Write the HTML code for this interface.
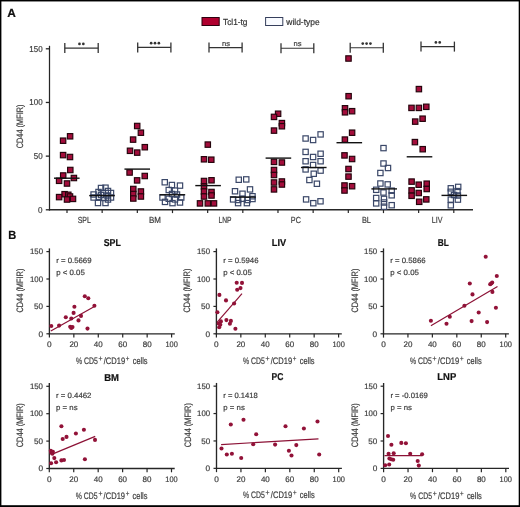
<!DOCTYPE html>
<html><head><meta charset="utf-8"><style>
html,body{margin:0;padding:0;background:#fff;}
body{width:520px;height:507px;overflow:hidden;}
svg{display:block;will-change:transform;font-family:"Liberation Sans",sans-serif;text-rendering:geometricPrecision;}
text{stroke:currentColor;stroke-width:0.2px;}
</style></head><body>
<svg width="520" height="507" viewBox="0 0 520 507">
<rect x="0" y="0" width="520" height="507" fill="#fff"/>
<text x="7.20" y="16.80" font-size="12" text-anchor="start" fill="#111" color="#111" font-weight="bold" textLength="8.6" lengthAdjust="spacingAndGlyphs">A</text>
<rect x="202" y="17.5" width="17.2" height="8" fill="#b0002f" stroke="#2e000e" stroke-width="1"/>
<text x="223.00" y="25.20" font-size="8.8" text-anchor="start" fill="#333" color="#333" font-weight="normal" textLength="24.5" lengthAdjust="spacingAndGlyphs">Tcl1-tg</text>
<rect x="265.6" y="17.5" width="17.2" height="8" fill="#f9fbff" stroke="#363f5c" stroke-width="1"/>
<text x="286.30" y="25.20" font-size="8.8" text-anchor="start" fill="#333" color="#333" font-weight="normal" textLength="33.3" lengthAdjust="spacingAndGlyphs">wild-type</text>
<line x1="49.50" y1="45.80" x2="49.50" y2="210.50" stroke="#262626" stroke-width="1.25"/>
<line x1="48.90" y1="209.80" x2="473.00" y2="209.80" stroke="#262626" stroke-width="1.4"/>
<line x1="45.80" y1="209.80" x2="49.50" y2="209.80" stroke="#262626" stroke-width="1.3"/>
<text x="42.60" y="212.70" font-size="8.6" text-anchor="end" fill="#3d3d3d" color="#3d3d3d" font-weight="normal" textLength="4.5" lengthAdjust="spacingAndGlyphs">0</text>
<line x1="45.80" y1="156.13" x2="49.50" y2="156.13" stroke="#262626" stroke-width="1.3"/>
<text x="42.60" y="159.03" font-size="8.6" text-anchor="end" fill="#3d3d3d" color="#3d3d3d" font-weight="normal" textLength="8.9" lengthAdjust="spacingAndGlyphs">50</text>
<line x1="45.80" y1="102.46" x2="49.50" y2="102.46" stroke="#262626" stroke-width="1.3"/>
<text x="42.60" y="105.36" font-size="8.6" text-anchor="end" fill="#3d3d3d" color="#3d3d3d" font-weight="normal" textLength="13.3" lengthAdjust="spacingAndGlyphs">100</text>
<line x1="45.80" y1="48.79" x2="49.50" y2="48.79" stroke="#262626" stroke-width="1.3"/>
<text x="42.60" y="51.69" font-size="8.6" text-anchor="end" fill="#3d3d3d" color="#3d3d3d" font-weight="normal" textLength="13.3" lengthAdjust="spacingAndGlyphs">150</text>
<text x="0" y="0" font-size="9.3" text-anchor="middle" fill="#3d3d3d" color="#3d3d3d" textLength="43.8" lengthAdjust="spacingAndGlyphs" transform="translate(23.0,126.4) rotate(-90)">CD44 (MFIR)</text>
<line x1="67.00" y1="209.80" x2="67.00" y2="213.10" stroke="#262626" stroke-width="1.2"/>
<line x1="102.16" y1="209.80" x2="102.16" y2="213.10" stroke="#262626" stroke-width="1.2"/>
<line x1="137.33" y1="209.80" x2="137.33" y2="213.10" stroke="#262626" stroke-width="1.2"/>
<line x1="172.49" y1="209.80" x2="172.49" y2="213.10" stroke="#262626" stroke-width="1.2"/>
<line x1="207.66" y1="209.80" x2="207.66" y2="213.10" stroke="#262626" stroke-width="1.2"/>
<line x1="242.82" y1="209.80" x2="242.82" y2="213.10" stroke="#262626" stroke-width="1.2"/>
<line x1="277.98" y1="209.80" x2="277.98" y2="213.10" stroke="#262626" stroke-width="1.2"/>
<line x1="313.15" y1="209.80" x2="313.15" y2="213.10" stroke="#262626" stroke-width="1.2"/>
<line x1="348.31" y1="209.80" x2="348.31" y2="213.10" stroke="#262626" stroke-width="1.2"/>
<line x1="383.48" y1="209.80" x2="383.48" y2="213.10" stroke="#262626" stroke-width="1.2"/>
<line x1="418.64" y1="209.80" x2="418.64" y2="213.10" stroke="#262626" stroke-width="1.2"/>
<line x1="453.80" y1="209.80" x2="453.80" y2="213.10" stroke="#262626" stroke-width="1.2"/>
<text x="84.30" y="222.80" font-size="8.8" text-anchor="middle" fill="#3d3d3d" color="#3d3d3d" font-weight="normal" textLength="13.2" lengthAdjust="spacingAndGlyphs">SPL</text>
<text x="154.90" y="222.80" font-size="8.8" text-anchor="middle" fill="#3d3d3d" color="#3d3d3d" font-weight="normal" textLength="12.0" lengthAdjust="spacingAndGlyphs">BM</text>
<text x="225.00" y="222.80" font-size="8.8" text-anchor="middle" fill="#3d3d3d" color="#3d3d3d" font-weight="normal" textLength="13.0" lengthAdjust="spacingAndGlyphs">LNP</text>
<text x="295.85" y="222.80" font-size="8.8" text-anchor="middle" fill="#3d3d3d" color="#3d3d3d" font-weight="normal" textLength="10.1" lengthAdjust="spacingAndGlyphs">PC</text>
<text x="366.40" y="222.80" font-size="8.8" text-anchor="middle" fill="#3d3d3d" color="#3d3d3d" font-weight="normal" textLength="9.0" lengthAdjust="spacingAndGlyphs">BL</text>
<text x="437.20" y="222.80" font-size="8.8" text-anchor="middle" fill="#3d3d3d" color="#3d3d3d" font-weight="normal" textLength="10.7" lengthAdjust="spacingAndGlyphs">LIV</text>
<line x1="64.80" y1="48.10" x2="98.20" y2="48.10" stroke="#333" stroke-width="1.1"/>
<line x1="64.80" y1="43.10" x2="64.80" y2="53.10" stroke="#333" stroke-width="1.3"/>
<line x1="98.20" y1="43.10" x2="98.20" y2="53.10" stroke="#333" stroke-width="1.3"/>
<circle cx="79.48" cy="43.90" r="1.35" fill="#333"/>
<circle cx="83.33" cy="43.90" r="1.35" fill="#333"/>
<line x1="137.70" y1="47.40" x2="170.90" y2="47.40" stroke="#333" stroke-width="1.1"/>
<line x1="137.70" y1="42.40" x2="137.70" y2="52.40" stroke="#333" stroke-width="1.3"/>
<line x1="170.90" y1="42.40" x2="170.90" y2="52.40" stroke="#333" stroke-width="1.3"/>
<circle cx="151.15" cy="43.20" r="1.35" fill="#333"/>
<circle cx="155.00" cy="43.20" r="1.35" fill="#333"/>
<circle cx="158.85" cy="43.20" r="1.35" fill="#333"/>
<line x1="209.00" y1="47.60" x2="242.10" y2="47.60" stroke="#333" stroke-width="1.1"/>
<line x1="209.00" y1="42.60" x2="209.00" y2="52.60" stroke="#333" stroke-width="1.3"/>
<line x1="242.10" y1="42.60" x2="242.10" y2="52.60" stroke="#333" stroke-width="1.3"/>
<text x="226.00" y="45.60" font-size="7.2" text-anchor="middle" fill="#444" color="#444" font-weight="normal" textLength="8.0" lengthAdjust="spacingAndGlyphs">ns</text>
<line x1="281.00" y1="48.30" x2="313.80" y2="48.30" stroke="#333" stroke-width="1.1"/>
<line x1="281.00" y1="43.30" x2="281.00" y2="53.30" stroke="#333" stroke-width="1.3"/>
<line x1="313.80" y1="43.30" x2="313.80" y2="53.30" stroke="#333" stroke-width="1.3"/>
<text x="297.60" y="46.30" font-size="7.2" text-anchor="middle" fill="#444" color="#444" font-weight="normal" textLength="8.0" lengthAdjust="spacingAndGlyphs">ns</text>
<line x1="350.20" y1="47.80" x2="383.30" y2="47.80" stroke="#333" stroke-width="1.1"/>
<line x1="350.20" y1="42.80" x2="350.20" y2="52.80" stroke="#333" stroke-width="1.3"/>
<line x1="383.30" y1="42.80" x2="383.30" y2="52.80" stroke="#333" stroke-width="1.3"/>
<circle cx="362.75" cy="43.60" r="1.35" fill="#333"/>
<circle cx="366.60" cy="43.60" r="1.35" fill="#333"/>
<circle cx="370.45" cy="43.60" r="1.35" fill="#333"/>
<line x1="421.00" y1="46.60" x2="454.40" y2="46.60" stroke="#333" stroke-width="1.1"/>
<line x1="421.00" y1="41.60" x2="421.00" y2="51.60" stroke="#333" stroke-width="1.3"/>
<line x1="454.40" y1="41.60" x2="454.40" y2="51.60" stroke="#333" stroke-width="1.3"/>
<circle cx="435.88" cy="42.40" r="1.35" fill="#333"/>
<circle cx="439.73" cy="42.40" r="1.35" fill="#333"/>
<rect x="67.40" y="133.60" width="5.4" height="5.4" fill="#a30d3b" stroke="#24040c" stroke-width="1.15"/>
<rect x="60.40" y="138.00" width="5.4" height="5.4" fill="#a30d3b" stroke="#24040c" stroke-width="1.15"/>
<rect x="60.40" y="152.40" width="5.4" height="5.4" fill="#a30d3b" stroke="#24040c" stroke-width="1.15"/>
<rect x="67.30" y="154.30" width="5.4" height="5.4" fill="#a30d3b" stroke="#24040c" stroke-width="1.15"/>
<rect x="67.60" y="167.30" width="5.4" height="5.4" fill="#a30d3b" stroke="#24040c" stroke-width="1.15"/>
<rect x="60.50" y="172.80" width="5.4" height="5.4" fill="#a30d3b" stroke="#24040c" stroke-width="1.15"/>
<rect x="71.20" y="175.30" width="5.4" height="5.4" fill="#a30d3b" stroke="#24040c" stroke-width="1.15"/>
<rect x="56.40" y="178.10" width="5.4" height="5.4" fill="#a30d3b" stroke="#24040c" stroke-width="1.15"/>
<rect x="64.30" y="180.80" width="5.4" height="5.4" fill="#a30d3b" stroke="#24040c" stroke-width="1.15"/>
<rect x="61.90" y="191.50" width="5.4" height="5.4" fill="#a30d3b" stroke="#24040c" stroke-width="1.15"/>
<rect x="65.60" y="192.10" width="5.4" height="5.4" fill="#a30d3b" stroke="#24040c" stroke-width="1.15"/>
<rect x="67.30" y="193.80" width="5.4" height="5.4" fill="#a30d3b" stroke="#24040c" stroke-width="1.15"/>
<rect x="56.40" y="194.40" width="5.4" height="5.4" fill="#a30d3b" stroke="#24040c" stroke-width="1.15"/>
<rect x="64.30" y="196.80" width="5.4" height="5.4" fill="#a30d3b" stroke="#24040c" stroke-width="1.15"/>
<rect x="70.30" y="196.20" width="5.4" height="5.4" fill="#a30d3b" stroke="#24040c" stroke-width="1.15"/>
<rect x="90.95" y="191.85" width="5.3" height="5.3" fill="none" stroke="#3a4768" stroke-width="1.2"/>
<rect x="90.95" y="194.85" width="5.3" height="5.3" fill="none" stroke="#3a4768" stroke-width="1.2"/>
<rect x="108.35" y="190.35" width="5.3" height="5.3" fill="none" stroke="#3a4768" stroke-width="1.2"/>
<rect x="108.35" y="194.85" width="5.3" height="5.3" fill="none" stroke="#3a4768" stroke-width="1.2"/>
<rect x="95.35" y="200.35" width="5.3" height="5.3" fill="none" stroke="#3a4768" stroke-width="1.2"/>
<rect x="102.85" y="200.35" width="5.3" height="5.3" fill="none" stroke="#3a4768" stroke-width="1.2"/>
<rect x="98.35" y="185.35" width="5.3" height="5.3" fill="none" stroke="#3a4768" stroke-width="1.2"/>
<rect x="102.85" y="185.05" width="5.3" height="5.3" fill="none" stroke="#3a4768" stroke-width="1.2"/>
<rect x="105.35" y="188.35" width="5.3" height="5.3" fill="none" stroke="#3a4768" stroke-width="1.2"/>
<rect x="95.85" y="189.35" width="5.3" height="5.3" fill="none" stroke="#3a4768" stroke-width="1.2"/>
<rect x="100.35" y="190.35" width="5.3" height="5.3" fill="none" stroke="#3a4768" stroke-width="1.2"/>
<rect x="104.85" y="192.85" width="5.3" height="5.3" fill="none" stroke="#3a4768" stroke-width="1.2"/>
<rect x="96.35" y="194.35" width="5.3" height="5.3" fill="none" stroke="#3a4768" stroke-width="1.2"/>
<rect x="100.85" y="195.35" width="5.3" height="5.3" fill="none" stroke="#3a4768" stroke-width="1.2"/>
<rect x="105.35" y="196.85" width="5.3" height="5.3" fill="none" stroke="#3a4768" stroke-width="1.2"/>
<rect x="98.35" y="192.35" width="5.3" height="5.3" fill="none" stroke="#3a4768" stroke-width="1.2"/>
<rect x="134.50" y="123.30" width="5.4" height="5.4" fill="#a30d3b" stroke="#24040c" stroke-width="1.15"/>
<rect x="138.20" y="130.00" width="5.4" height="5.4" fill="#a30d3b" stroke="#24040c" stroke-width="1.15"/>
<rect x="130.40" y="136.90" width="5.4" height="5.4" fill="#a30d3b" stroke="#24040c" stroke-width="1.15"/>
<rect x="142.10" y="144.50" width="5.4" height="5.4" fill="#a30d3b" stroke="#24040c" stroke-width="1.15"/>
<rect x="127.30" y="148.10" width="5.4" height="5.4" fill="#a30d3b" stroke="#24040c" stroke-width="1.15"/>
<rect x="134.50" y="149.90" width="5.4" height="5.4" fill="#a30d3b" stroke="#24040c" stroke-width="1.15"/>
<rect x="126.90" y="169.80" width="5.4" height="5.4" fill="#a30d3b" stroke="#24040c" stroke-width="1.15"/>
<rect x="142.05" y="173.30" width="5.4" height="5.4" fill="#a30d3b" stroke="#24040c" stroke-width="1.15"/>
<rect x="134.40" y="177.70" width="5.4" height="5.4" fill="#a30d3b" stroke="#24040c" stroke-width="1.15"/>
<rect x="130.60" y="186.30" width="5.4" height="5.4" fill="#a30d3b" stroke="#24040c" stroke-width="1.15"/>
<rect x="130.60" y="191.30" width="5.4" height="5.4" fill="#a30d3b" stroke="#24040c" stroke-width="1.15"/>
<rect x="130.60" y="195.80" width="5.4" height="5.4" fill="#a30d3b" stroke="#24040c" stroke-width="1.15"/>
<rect x="138.20" y="188.80" width="5.4" height="5.4" fill="#a30d3b" stroke="#24040c" stroke-width="1.15"/>
<rect x="138.20" y="193.80" width="5.4" height="5.4" fill="#a30d3b" stroke="#24040c" stroke-width="1.15"/>
<rect x="162.10" y="179.60" width="5.3" height="5.3" fill="none" stroke="#3a4768" stroke-width="1.2"/>
<rect x="169.25" y="182.35" width="5.3" height="5.3" fill="none" stroke="#3a4768" stroke-width="1.2"/>
<rect x="177.35" y="182.95" width="5.3" height="5.3" fill="none" stroke="#3a4768" stroke-width="1.2"/>
<rect x="166.10" y="187.35" width="5.3" height="5.3" fill="none" stroke="#3a4768" stroke-width="1.2"/>
<rect x="172.35" y="187.95" width="5.3" height="5.3" fill="none" stroke="#3a4768" stroke-width="1.2"/>
<rect x="169.35" y="191.35" width="5.3" height="5.3" fill="none" stroke="#3a4768" stroke-width="1.2"/>
<rect x="174.35" y="191.85" width="5.3" height="5.3" fill="none" stroke="#3a4768" stroke-width="1.2"/>
<rect x="159.85" y="194.85" width="5.3" height="5.3" fill="none" stroke="#3a4768" stroke-width="1.2"/>
<rect x="166.10" y="196.10" width="5.3" height="5.3" fill="none" stroke="#3a4768" stroke-width="1.2"/>
<rect x="172.35" y="196.75" width="5.3" height="5.3" fill="none" stroke="#3a4768" stroke-width="1.2"/>
<rect x="178.60" y="194.85" width="5.3" height="5.3" fill="none" stroke="#3a4768" stroke-width="1.2"/>
<rect x="162.35" y="199.25" width="5.3" height="5.3" fill="none" stroke="#3a4768" stroke-width="1.2"/>
<rect x="169.85" y="200.45" width="5.3" height="5.3" fill="none" stroke="#3a4768" stroke-width="1.2"/>
<rect x="177.35" y="199.85" width="5.3" height="5.3" fill="none" stroke="#3a4768" stroke-width="1.2"/>
<rect x="205.10" y="141.90" width="5.4" height="5.4" fill="#a30d3b" stroke="#24040c" stroke-width="1.15"/>
<rect x="201.30" y="156.60" width="5.4" height="5.4" fill="#a30d3b" stroke="#24040c" stroke-width="1.15"/>
<rect x="208.60" y="157.00" width="5.4" height="5.4" fill="#a30d3b" stroke="#24040c" stroke-width="1.15"/>
<rect x="201.30" y="178.30" width="5.4" height="5.4" fill="#a30d3b" stroke="#24040c" stroke-width="1.15"/>
<rect x="208.80" y="177.60" width="5.4" height="5.4" fill="#a30d3b" stroke="#24040c" stroke-width="1.15"/>
<rect x="201.30" y="183.80" width="5.4" height="5.4" fill="#a30d3b" stroke="#24040c" stroke-width="1.15"/>
<rect x="201.30" y="188.80" width="5.4" height="5.4" fill="#a30d3b" stroke="#24040c" stroke-width="1.15"/>
<rect x="201.30" y="193.80" width="5.4" height="5.4" fill="#a30d3b" stroke="#24040c" stroke-width="1.15"/>
<rect x="208.80" y="189.30" width="5.4" height="5.4" fill="#a30d3b" stroke="#24040c" stroke-width="1.15"/>
<rect x="208.80" y="192.80" width="5.4" height="5.4" fill="#a30d3b" stroke="#24040c" stroke-width="1.15"/>
<rect x="197.30" y="200.70" width="5.4" height="5.4" fill="#a30d3b" stroke="#24040c" stroke-width="1.15"/>
<rect x="205.10" y="200.70" width="5.4" height="5.4" fill="#a30d3b" stroke="#24040c" stroke-width="1.15"/>
<rect x="211.30" y="200.70" width="5.4" height="5.4" fill="#a30d3b" stroke="#24040c" stroke-width="1.15"/>
<rect x="236.10" y="177.10" width="5.3" height="5.3" fill="none" stroke="#3a4768" stroke-width="1.2"/>
<rect x="243.60" y="176.75" width="5.3" height="5.3" fill="none" stroke="#3a4768" stroke-width="1.2"/>
<rect x="232.35" y="188.60" width="5.3" height="5.3" fill="none" stroke="#3a4768" stroke-width="1.2"/>
<rect x="247.35" y="186.75" width="5.3" height="5.3" fill="none" stroke="#3a4768" stroke-width="1.2"/>
<rect x="239.85" y="191.10" width="5.3" height="5.3" fill="none" stroke="#3a4768" stroke-width="1.2"/>
<rect x="249.85" y="193.60" width="5.3" height="5.3" fill="none" stroke="#3a4768" stroke-width="1.2"/>
<rect x="230.45" y="196.75" width="5.3" height="5.3" fill="none" stroke="#3a4768" stroke-width="1.2"/>
<rect x="235.45" y="197.35" width="5.3" height="5.3" fill="none" stroke="#3a4768" stroke-width="1.2"/>
<rect x="239.85" y="196.10" width="5.3" height="5.3" fill="none" stroke="#3a4768" stroke-width="1.2"/>
<rect x="244.85" y="197.35" width="5.3" height="5.3" fill="none" stroke="#3a4768" stroke-width="1.2"/>
<rect x="249.85" y="196.35" width="5.3" height="5.3" fill="none" stroke="#3a4768" stroke-width="1.2"/>
<rect x="235.45" y="200.45" width="5.3" height="5.3" fill="none" stroke="#3a4768" stroke-width="1.2"/>
<rect x="244.25" y="200.45" width="5.3" height="5.3" fill="none" stroke="#3a4768" stroke-width="1.2"/>
<rect x="275.40" y="111.05" width="5.4" height="5.4" fill="#a30d3b" stroke="#24040c" stroke-width="1.15"/>
<rect x="271.30" y="114.20" width="5.4" height="5.4" fill="#a30d3b" stroke="#24040c" stroke-width="1.15"/>
<rect x="279.20" y="120.40" width="5.4" height="5.4" fill="#a30d3b" stroke="#24040c" stroke-width="1.15"/>
<rect x="279.20" y="123.55" width="5.4" height="5.4" fill="#a30d3b" stroke="#24040c" stroke-width="1.15"/>
<rect x="271.30" y="127.90" width="5.4" height="5.4" fill="#a30d3b" stroke="#24040c" stroke-width="1.15"/>
<rect x="271.30" y="159.20" width="5.4" height="5.4" fill="#a30d3b" stroke="#24040c" stroke-width="1.15"/>
<rect x="279.20" y="159.80" width="5.4" height="5.4" fill="#a30d3b" stroke="#24040c" stroke-width="1.15"/>
<rect x="271.30" y="167.30" width="5.4" height="5.4" fill="#a30d3b" stroke="#24040c" stroke-width="1.15"/>
<rect x="271.30" y="172.30" width="5.4" height="5.4" fill="#a30d3b" stroke="#24040c" stroke-width="1.15"/>
<rect x="271.30" y="179.80" width="5.4" height="5.4" fill="#a30d3b" stroke="#24040c" stroke-width="1.15"/>
<rect x="271.30" y="186.70" width="5.4" height="5.4" fill="#a30d3b" stroke="#24040c" stroke-width="1.15"/>
<rect x="279.20" y="178.80" width="5.4" height="5.4" fill="#a30d3b" stroke="#24040c" stroke-width="1.15"/>
<rect x="279.20" y="181.80" width="5.4" height="5.4" fill="#a30d3b" stroke="#24040c" stroke-width="1.15"/>
<rect x="302.95" y="135.85" width="5.3" height="5.3" fill="none" stroke="#3a4768" stroke-width="1.2"/>
<rect x="310.45" y="137.35" width="5.3" height="5.3" fill="none" stroke="#3a4768" stroke-width="1.2"/>
<rect x="317.95" y="131.75" width="5.3" height="5.3" fill="none" stroke="#3a4768" stroke-width="1.2"/>
<rect x="302.95" y="149.25" width="5.3" height="5.3" fill="none" stroke="#3a4768" stroke-width="1.2"/>
<rect x="310.45" y="154.35" width="5.3" height="5.3" fill="none" stroke="#3a4768" stroke-width="1.2"/>
<rect x="317.95" y="151.10" width="5.3" height="5.3" fill="none" stroke="#3a4768" stroke-width="1.2"/>
<rect x="302.95" y="158.60" width="5.3" height="5.3" fill="none" stroke="#3a4768" stroke-width="1.2"/>
<rect x="317.95" y="158.60" width="5.3" height="5.3" fill="none" stroke="#3a4768" stroke-width="1.2"/>
<rect x="310.45" y="162.35" width="5.3" height="5.3" fill="none" stroke="#3a4768" stroke-width="1.2"/>
<rect x="302.95" y="166.75" width="5.3" height="5.3" fill="none" stroke="#3a4768" stroke-width="1.2"/>
<rect x="317.95" y="167.95" width="5.3" height="5.3" fill="none" stroke="#3a4768" stroke-width="1.2"/>
<rect x="311.10" y="171.10" width="5.3" height="5.3" fill="none" stroke="#3a4768" stroke-width="1.2"/>
<rect x="306.75" y="177.35" width="5.3" height="5.3" fill="none" stroke="#3a4768" stroke-width="1.2"/>
<rect x="314.25" y="181.10" width="5.3" height="5.3" fill="none" stroke="#3a4768" stroke-width="1.2"/>
<rect x="303.45" y="196.75" width="5.3" height="5.3" fill="none" stroke="#3a4768" stroke-width="1.2"/>
<rect x="310.65" y="200.55" width="5.3" height="5.3" fill="none" stroke="#3a4768" stroke-width="1.2"/>
<rect x="317.85" y="198.65" width="5.3" height="5.3" fill="none" stroke="#3a4768" stroke-width="1.2"/>
<rect x="345.80" y="55.80" width="5.4" height="5.4" fill="#a30d3b" stroke="#24040c" stroke-width="1.15"/>
<rect x="345.90" y="93.50" width="5.4" height="5.4" fill="#a30d3b" stroke="#24040c" stroke-width="1.15"/>
<rect x="342.30" y="105.60" width="5.4" height="5.4" fill="#a30d3b" stroke="#24040c" stroke-width="1.15"/>
<rect x="342.30" y="109.60" width="5.4" height="5.4" fill="#a30d3b" stroke="#24040c" stroke-width="1.15"/>
<rect x="349.40" y="108.50" width="5.4" height="5.4" fill="#a30d3b" stroke="#24040c" stroke-width="1.15"/>
<rect x="349.40" y="130.00" width="5.4" height="5.4" fill="#a30d3b" stroke="#24040c" stroke-width="1.15"/>
<rect x="342.20" y="136.90" width="5.4" height="5.4" fill="#a30d3b" stroke="#24040c" stroke-width="1.15"/>
<rect x="341.80" y="152.70" width="5.4" height="5.4" fill="#a30d3b" stroke="#24040c" stroke-width="1.15"/>
<rect x="349.40" y="156.30" width="5.4" height="5.4" fill="#a30d3b" stroke="#24040c" stroke-width="1.15"/>
<rect x="345.80" y="166.30" width="5.4" height="5.4" fill="#a30d3b" stroke="#24040c" stroke-width="1.15"/>
<rect x="345.80" y="173.90" width="5.4" height="5.4" fill="#a30d3b" stroke="#24040c" stroke-width="1.15"/>
<rect x="341.80" y="182.80" width="5.4" height="5.4" fill="#a30d3b" stroke="#24040c" stroke-width="1.15"/>
<rect x="341.80" y="187.80" width="5.4" height="5.4" fill="#a30d3b" stroke="#24040c" stroke-width="1.15"/>
<rect x="349.40" y="183.50" width="5.4" height="5.4" fill="#a30d3b" stroke="#24040c" stroke-width="1.15"/>
<rect x="380.85" y="145.45" width="5.3" height="5.3" fill="none" stroke="#3a4768" stroke-width="1.2"/>
<rect x="380.85" y="160.85" width="5.3" height="5.3" fill="none" stroke="#3a4768" stroke-width="1.2"/>
<rect x="385.35" y="165.35" width="5.3" height="5.3" fill="none" stroke="#3a4768" stroke-width="1.2"/>
<rect x="377.75" y="170.35" width="5.3" height="5.3" fill="none" stroke="#3a4768" stroke-width="1.2"/>
<rect x="377.75" y="180.85" width="5.3" height="5.3" fill="none" stroke="#3a4768" stroke-width="1.2"/>
<rect x="385.05" y="181.75" width="5.3" height="5.3" fill="none" stroke="#3a4768" stroke-width="1.2"/>
<rect x="373.55" y="187.15" width="5.3" height="5.3" fill="none" stroke="#3a4768" stroke-width="1.2"/>
<rect x="380.85" y="189.85" width="5.3" height="5.3" fill="none" stroke="#3a4768" stroke-width="1.2"/>
<rect x="389.05" y="188.05" width="5.3" height="5.3" fill="none" stroke="#3a4768" stroke-width="1.2"/>
<rect x="373.55" y="195.35" width="5.3" height="5.3" fill="none" stroke="#3a4768" stroke-width="1.2"/>
<rect x="381.35" y="196.25" width="5.3" height="5.3" fill="none" stroke="#3a4768" stroke-width="1.2"/>
<rect x="389.05" y="192.65" width="5.3" height="5.3" fill="none" stroke="#3a4768" stroke-width="1.2"/>
<rect x="373.55" y="200.75" width="5.3" height="5.3" fill="none" stroke="#3a4768" stroke-width="1.2"/>
<rect x="381.35" y="199.85" width="5.3" height="5.3" fill="none" stroke="#3a4768" stroke-width="1.2"/>
<rect x="389.05" y="202.55" width="5.3" height="5.3" fill="none" stroke="#3a4768" stroke-width="1.2"/>
<rect x="381.35" y="204.05" width="5.3" height="5.3" fill="none" stroke="#3a4768" stroke-width="1.2"/>
<rect x="416.20" y="86.40" width="5.4" height="5.4" fill="#a30d3b" stroke="#24040c" stroke-width="1.15"/>
<rect x="408.80" y="105.20" width="5.4" height="5.4" fill="#a30d3b" stroke="#24040c" stroke-width="1.15"/>
<rect x="416.20" y="105.20" width="5.4" height="5.4" fill="#a30d3b" stroke="#24040c" stroke-width="1.15"/>
<rect x="423.60" y="104.10" width="5.4" height="5.4" fill="#a30d3b" stroke="#24040c" stroke-width="1.15"/>
<rect x="412.50" y="118.90" width="5.4" height="5.4" fill="#a30d3b" stroke="#24040c" stroke-width="1.15"/>
<rect x="419.90" y="116.00" width="5.4" height="5.4" fill="#a30d3b" stroke="#24040c" stroke-width="1.15"/>
<rect x="412.20" y="139.40" width="5.4" height="5.4" fill="#a30d3b" stroke="#24040c" stroke-width="1.15"/>
<rect x="420.00" y="146.50" width="5.4" height="5.4" fill="#a30d3b" stroke="#24040c" stroke-width="1.15"/>
<rect x="408.90" y="178.90" width="5.4" height="5.4" fill="#a30d3b" stroke="#24040c" stroke-width="1.15"/>
<rect x="416.00" y="182.00" width="5.4" height="5.4" fill="#a30d3b" stroke="#24040c" stroke-width="1.15"/>
<rect x="424.00" y="181.00" width="5.4" height="5.4" fill="#a30d3b" stroke="#24040c" stroke-width="1.15"/>
<rect x="424.00" y="186.30" width="5.4" height="5.4" fill="#a30d3b" stroke="#24040c" stroke-width="1.15"/>
<rect x="408.90" y="187.70" width="5.4" height="5.4" fill="#a30d3b" stroke="#24040c" stroke-width="1.15"/>
<rect x="408.90" y="193.10" width="5.4" height="5.4" fill="#a30d3b" stroke="#24040c" stroke-width="1.15"/>
<rect x="416.00" y="190.30" width="5.4" height="5.4" fill="#a30d3b" stroke="#24040c" stroke-width="1.15"/>
<rect x="423.60" y="196.70" width="5.4" height="5.4" fill="#a30d3b" stroke="#24040c" stroke-width="1.15"/>
<rect x="416.50" y="199.10" width="5.4" height="5.4" fill="#a30d3b" stroke="#24040c" stroke-width="1.15"/>
<rect x="448.15" y="185.65" width="5.3" height="5.3" fill="none" stroke="#3a4768" stroke-width="1.2"/>
<rect x="455.55" y="184.25" width="5.3" height="5.3" fill="none" stroke="#3a4768" stroke-width="1.2"/>
<rect x="448.15" y="189.15" width="5.3" height="5.3" fill="none" stroke="#3a4768" stroke-width="1.2"/>
<rect x="454.85" y="188.45" width="5.3" height="5.3" fill="none" stroke="#3a4768" stroke-width="1.2"/>
<rect x="451.35" y="192.35" width="5.3" height="5.3" fill="none" stroke="#3a4768" stroke-width="1.2"/>
<rect x="455.25" y="192.85" width="5.3" height="5.3" fill="none" stroke="#3a4768" stroke-width="1.2"/>
<rect x="448.15" y="196.95" width="5.3" height="5.3" fill="none" stroke="#3a4768" stroke-width="1.2"/>
<rect x="455.25" y="196.95" width="5.3" height="5.3" fill="none" stroke="#3a4768" stroke-width="1.2"/>
<rect x="448.15" y="202.65" width="5.3" height="5.3" fill="none" stroke="#3a4768" stroke-width="1.2"/>
<line x1="54.00" y1="178.20" x2="79.60" y2="178.20" stroke="#111" stroke-width="1.4"/>
<line x1="89.20" y1="195.60" x2="114.80" y2="195.60" stroke="#111" stroke-width="1.4"/>
<line x1="124.45" y1="169.10" x2="150.05" y2="169.10" stroke="#111" stroke-width="1.4"/>
<line x1="159.60" y1="194.75" x2="185.20" y2="194.75" stroke="#111" stroke-width="1.4"/>
<line x1="195.30" y1="185.60" x2="220.90" y2="185.60" stroke="#111" stroke-width="1.4"/>
<line x1="230.20" y1="197.10" x2="255.80" y2="197.10" stroke="#111" stroke-width="1.4"/>
<line x1="265.60" y1="158.10" x2="291.20" y2="158.10" stroke="#111" stroke-width="1.4"/>
<line x1="300.95" y1="167.50" x2="326.55" y2="167.50" stroke="#111" stroke-width="1.4"/>
<line x1="336.50" y1="142.70" x2="362.10" y2="142.70" stroke="#111" stroke-width="1.4"/>
<line x1="371.40" y1="188.90" x2="397.00" y2="188.90" stroke="#111" stroke-width="1.4"/>
<line x1="406.70" y1="156.80" x2="432.30" y2="156.80" stroke="#111" stroke-width="1.4"/>
<line x1="441.50" y1="195.40" x2="467.10" y2="195.40" stroke="#111" stroke-width="1.4"/>
<text x="8.30" y="238.80" font-size="12" text-anchor="start" fill="#111" color="#111" font-weight="bold" textLength="8.0" lengthAdjust="spacingAndGlyphs">B</text>
<text x="112.30" y="245.80" font-size="10" text-anchor="middle" fill="#111" color="#111" font-weight="bold" textLength="17.2" lengthAdjust="spacingAndGlyphs">SPL</text>
<line x1="49.40" y1="248.40" x2="49.40" y2="334.40" stroke="#262626" stroke-width="1.35"/>
<line x1="48.80" y1="333.80" x2="174.80" y2="333.80" stroke="#262626" stroke-width="1.35"/>
<line x1="46.40" y1="333.80" x2="49.40" y2="333.80" stroke="#262626" stroke-width="1.2"/>
<text x="43.10" y="336.55" font-size="8" text-anchor="end" fill="#3d3d3d" color="#3d3d3d" font-weight="normal" textLength="4.6" lengthAdjust="spacingAndGlyphs">0</text>
<line x1="46.40" y1="306.40" x2="49.40" y2="306.40" stroke="#262626" stroke-width="1.2"/>
<text x="43.10" y="309.15" font-size="8" text-anchor="end" fill="#3d3d3d" color="#3d3d3d" font-weight="normal" textLength="9.0" lengthAdjust="spacingAndGlyphs">50</text>
<line x1="46.40" y1="279.00" x2="49.40" y2="279.00" stroke="#262626" stroke-width="1.2"/>
<text x="43.10" y="281.75" font-size="8" text-anchor="end" fill="#3d3d3d" color="#3d3d3d" font-weight="normal" textLength="13.1" lengthAdjust="spacingAndGlyphs">100</text>
<line x1="46.40" y1="251.60" x2="49.40" y2="251.60" stroke="#262626" stroke-width="1.2"/>
<text x="43.10" y="254.35" font-size="8" text-anchor="end" fill="#3d3d3d" color="#3d3d3d" font-weight="normal" textLength="13.1" lengthAdjust="spacingAndGlyphs">150</text>
<line x1="49.40" y1="333.80" x2="49.40" y2="337.60" stroke="#262626" stroke-width="1.2"/>
<text x="49.40" y="347.10" font-size="8" text-anchor="middle" fill="#3d3d3d" color="#3d3d3d" font-weight="normal" textLength="4.6" lengthAdjust="spacingAndGlyphs">0</text>
<line x1="73.84" y1="333.80" x2="73.84" y2="337.60" stroke="#262626" stroke-width="1.2"/>
<text x="73.84" y="347.10" font-size="8" text-anchor="middle" fill="#3d3d3d" color="#3d3d3d" font-weight="normal" textLength="8.9" lengthAdjust="spacingAndGlyphs">20</text>
<line x1="98.28" y1="333.80" x2="98.28" y2="337.60" stroke="#262626" stroke-width="1.2"/>
<text x="98.28" y="347.10" font-size="8" text-anchor="middle" fill="#3d3d3d" color="#3d3d3d" font-weight="normal" textLength="8.9" lengthAdjust="spacingAndGlyphs">40</text>
<line x1="122.72" y1="333.80" x2="122.72" y2="337.60" stroke="#262626" stroke-width="1.2"/>
<text x="122.72" y="347.10" font-size="8" text-anchor="middle" fill="#3d3d3d" color="#3d3d3d" font-weight="normal" textLength="8.9" lengthAdjust="spacingAndGlyphs">60</text>
<line x1="147.16" y1="333.80" x2="147.16" y2="337.60" stroke="#262626" stroke-width="1.2"/>
<text x="147.16" y="347.10" font-size="8" text-anchor="middle" fill="#3d3d3d" color="#3d3d3d" font-weight="normal" textLength="8.9" lengthAdjust="spacingAndGlyphs">80</text>
<line x1="171.60" y1="333.80" x2="171.60" y2="337.60" stroke="#262626" stroke-width="1.2"/>
<text x="171.60" y="347.10" font-size="8" text-anchor="middle" fill="#3d3d3d" color="#3d3d3d" font-weight="normal" textLength="12.4" lengthAdjust="spacingAndGlyphs">100</text>
<text x="0" y="0" font-size="9.3" text-anchor="middle" fill="#3d3d3d" color="#3d3d3d" textLength="44" lengthAdjust="spacingAndGlyphs" transform="translate(23.40,290.60) rotate(-90)">CD44 (MFIR)</text>
<text x="75.90" y="363.90" font-size="9.4" text-anchor="start" fill="#3d3d3d" color="#3d3d3d" font-weight="normal" textLength="21.9" lengthAdjust="spacingAndGlyphs">% CD5</text>
<text x="98.50" y="360.90" font-size="7.6" text-anchor="start" fill="#3d3d3d" color="#3d3d3d" font-weight="normal" textLength="4.0" lengthAdjust="spacingAndGlyphs">+</text>
<text x="103.70" y="363.90" font-size="9.4" text-anchor="start" fill="#3d3d3d" color="#3d3d3d" font-weight="normal" textLength="21.5" lengthAdjust="spacingAndGlyphs">/CD19</text>
<text x="125.80" y="360.90" font-size="7.6" text-anchor="start" fill="#3d3d3d" color="#3d3d3d" font-weight="normal" textLength="3.6" lengthAdjust="spacingAndGlyphs">+</text>
<text x="132.70" y="363.90" font-size="9.4" text-anchor="start" fill="#3d3d3d" color="#3d3d3d" font-weight="normal" textLength="14.9" lengthAdjust="spacingAndGlyphs">cells</text>
<text x="56.20" y="263.40" font-size="7.6" text-anchor="start" fill="#3d3d3d" color="#3d3d3d" font-weight="normal" textLength="35.3" lengthAdjust="spacingAndGlyphs">r = 0.5669</text>
<text x="56.20" y="275.00" font-size="7.6" text-anchor="start" fill="#3d3d3d" color="#3d3d3d" font-weight="normal" textLength="28.6" lengthAdjust="spacingAndGlyphs">p &lt; 0.05</text>
<circle cx="51.30" cy="326.00" r="2.05" fill="#921238"/>
<circle cx="59.10" cy="325.60" r="2.05" fill="#921238"/>
<circle cx="65.80" cy="317.30" r="2.05" fill="#921238"/>
<circle cx="71.30" cy="318.50" r="2.05" fill="#921238"/>
<circle cx="73.60" cy="312.90" r="2.05" fill="#921238"/>
<circle cx="74.40" cy="306.70" r="2.05" fill="#921238"/>
<circle cx="78.50" cy="320.40" r="2.05" fill="#921238"/>
<circle cx="81.00" cy="315.90" r="2.05" fill="#921238"/>
<circle cx="70.20" cy="326.80" r="2.05" fill="#921238"/>
<circle cx="72.50" cy="327.10" r="2.05" fill="#921238"/>
<circle cx="71.30" cy="327.90" r="2.05" fill="#921238"/>
<circle cx="84.80" cy="296.30" r="2.05" fill="#921238"/>
<circle cx="88.30" cy="298.30" r="2.05" fill="#921238"/>
<circle cx="94.40" cy="305.80" r="2.05" fill="#921238"/>
<circle cx="87.50" cy="328.60" r="2.05" fill="#921238"/>
<line x1="50.80" y1="330.90" x2="94.00" y2="306.70" stroke="#8c1236" stroke-width="1.2"/>
<text x="279.00" y="245.80" font-size="10" text-anchor="middle" fill="#111" color="#111" font-weight="bold" textLength="14.3" lengthAdjust="spacingAndGlyphs">LIV</text>
<line x1="216.40" y1="248.40" x2="216.40" y2="334.40" stroke="#262626" stroke-width="1.35"/>
<line x1="215.80" y1="333.80" x2="341.80" y2="333.80" stroke="#262626" stroke-width="1.35"/>
<line x1="213.40" y1="333.80" x2="216.40" y2="333.80" stroke="#262626" stroke-width="1.2"/>
<text x="210.10" y="336.55" font-size="8" text-anchor="end" fill="#3d3d3d" color="#3d3d3d" font-weight="normal" textLength="4.6" lengthAdjust="spacingAndGlyphs">0</text>
<line x1="213.40" y1="306.40" x2="216.40" y2="306.40" stroke="#262626" stroke-width="1.2"/>
<text x="210.10" y="309.15" font-size="8" text-anchor="end" fill="#3d3d3d" color="#3d3d3d" font-weight="normal" textLength="9.0" lengthAdjust="spacingAndGlyphs">50</text>
<line x1="213.40" y1="279.00" x2="216.40" y2="279.00" stroke="#262626" stroke-width="1.2"/>
<text x="210.10" y="281.75" font-size="8" text-anchor="end" fill="#3d3d3d" color="#3d3d3d" font-weight="normal" textLength="13.1" lengthAdjust="spacingAndGlyphs">100</text>
<line x1="213.40" y1="251.60" x2="216.40" y2="251.60" stroke="#262626" stroke-width="1.2"/>
<text x="210.10" y="254.35" font-size="8" text-anchor="end" fill="#3d3d3d" color="#3d3d3d" font-weight="normal" textLength="13.1" lengthAdjust="spacingAndGlyphs">150</text>
<line x1="216.40" y1="333.80" x2="216.40" y2="337.60" stroke="#262626" stroke-width="1.2"/>
<text x="216.40" y="347.10" font-size="8" text-anchor="middle" fill="#3d3d3d" color="#3d3d3d" font-weight="normal" textLength="4.6" lengthAdjust="spacingAndGlyphs">0</text>
<line x1="240.84" y1="333.80" x2="240.84" y2="337.60" stroke="#262626" stroke-width="1.2"/>
<text x="240.84" y="347.10" font-size="8" text-anchor="middle" fill="#3d3d3d" color="#3d3d3d" font-weight="normal" textLength="8.9" lengthAdjust="spacingAndGlyphs">20</text>
<line x1="265.28" y1="333.80" x2="265.28" y2="337.60" stroke="#262626" stroke-width="1.2"/>
<text x="265.28" y="347.10" font-size="8" text-anchor="middle" fill="#3d3d3d" color="#3d3d3d" font-weight="normal" textLength="8.9" lengthAdjust="spacingAndGlyphs">40</text>
<line x1="289.72" y1="333.80" x2="289.72" y2="337.60" stroke="#262626" stroke-width="1.2"/>
<text x="289.72" y="347.10" font-size="8" text-anchor="middle" fill="#3d3d3d" color="#3d3d3d" font-weight="normal" textLength="8.9" lengthAdjust="spacingAndGlyphs">60</text>
<line x1="314.16" y1="333.80" x2="314.16" y2="337.60" stroke="#262626" stroke-width="1.2"/>
<text x="314.16" y="347.10" font-size="8" text-anchor="middle" fill="#3d3d3d" color="#3d3d3d" font-weight="normal" textLength="8.9" lengthAdjust="spacingAndGlyphs">80</text>
<line x1="338.60" y1="333.80" x2="338.60" y2="337.60" stroke="#262626" stroke-width="1.2"/>
<text x="338.60" y="347.10" font-size="8" text-anchor="middle" fill="#3d3d3d" color="#3d3d3d" font-weight="normal" textLength="12.4" lengthAdjust="spacingAndGlyphs">100</text>
<text x="0" y="0" font-size="9.3" text-anchor="middle" fill="#3d3d3d" color="#3d3d3d" textLength="44" lengthAdjust="spacingAndGlyphs" transform="translate(190.40,290.60) rotate(-90)">CD44 (MFIR)</text>
<text x="242.90" y="363.90" font-size="9.4" text-anchor="start" fill="#3d3d3d" color="#3d3d3d" font-weight="normal" textLength="21.9" lengthAdjust="spacingAndGlyphs">% CD5</text>
<text x="265.50" y="360.90" font-size="7.6" text-anchor="start" fill="#3d3d3d" color="#3d3d3d" font-weight="normal" textLength="4.0" lengthAdjust="spacingAndGlyphs">+</text>
<text x="270.70" y="363.90" font-size="9.4" text-anchor="start" fill="#3d3d3d" color="#3d3d3d" font-weight="normal" textLength="21.5" lengthAdjust="spacingAndGlyphs">/CD19</text>
<text x="292.80" y="360.90" font-size="7.6" text-anchor="start" fill="#3d3d3d" color="#3d3d3d" font-weight="normal" textLength="3.6" lengthAdjust="spacingAndGlyphs">+</text>
<text x="299.70" y="363.90" font-size="9.4" text-anchor="start" fill="#3d3d3d" color="#3d3d3d" font-weight="normal" textLength="14.9" lengthAdjust="spacingAndGlyphs">cells</text>
<text x="223.20" y="263.40" font-size="7.6" text-anchor="start" fill="#3d3d3d" color="#3d3d3d" font-weight="normal" textLength="35.3" lengthAdjust="spacingAndGlyphs">r = 0.5946</text>
<text x="223.20" y="275.00" font-size="7.6" text-anchor="start" fill="#3d3d3d" color="#3d3d3d" font-weight="normal" textLength="28.6" lengthAdjust="spacingAndGlyphs">p &lt; 0.05</text>
<circle cx="236.70" cy="282.70" r="2.05" fill="#921238"/>
<circle cx="242.00" cy="282.90" r="2.05" fill="#921238"/>
<circle cx="240.50" cy="288.10" r="2.05" fill="#921238"/>
<circle cx="237.20" cy="289.70" r="2.05" fill="#921238"/>
<circle cx="219.40" cy="294.90" r="2.05" fill="#921238"/>
<circle cx="226.00" cy="300.40" r="2.05" fill="#921238"/>
<circle cx="234.10" cy="303.50" r="2.05" fill="#921238"/>
<circle cx="217.40" cy="312.20" r="2.05" fill="#921238"/>
<circle cx="226.40" cy="320.10" r="2.05" fill="#921238"/>
<circle cx="230.90" cy="320.90" r="2.05" fill="#921238"/>
<circle cx="229.90" cy="323.70" r="2.05" fill="#921238"/>
<circle cx="220.90" cy="321.40" r="2.05" fill="#921238"/>
<circle cx="218.70" cy="323.50" r="2.05" fill="#921238"/>
<circle cx="220.30" cy="324.70" r="2.05" fill="#921238"/>
<circle cx="219.20" cy="327.30" r="2.05" fill="#921238"/>
<circle cx="235.40" cy="328.80" r="2.05" fill="#921238"/>
<line x1="217.00" y1="322.40" x2="242.00" y2="293.60" stroke="#8c1236" stroke-width="1.2"/>
<text x="443.30" y="245.80" font-size="10" text-anchor="middle" fill="#111" color="#111" font-weight="bold" textLength="11.1" lengthAdjust="spacingAndGlyphs">BL</text>
<line x1="383.50" y1="248.40" x2="383.50" y2="334.40" stroke="#262626" stroke-width="1.35"/>
<line x1="382.90" y1="333.80" x2="508.90" y2="333.80" stroke="#262626" stroke-width="1.35"/>
<line x1="380.50" y1="333.80" x2="383.50" y2="333.80" stroke="#262626" stroke-width="1.2"/>
<text x="377.20" y="336.55" font-size="8" text-anchor="end" fill="#3d3d3d" color="#3d3d3d" font-weight="normal" textLength="4.6" lengthAdjust="spacingAndGlyphs">0</text>
<line x1="380.50" y1="306.40" x2="383.50" y2="306.40" stroke="#262626" stroke-width="1.2"/>
<text x="377.20" y="309.15" font-size="8" text-anchor="end" fill="#3d3d3d" color="#3d3d3d" font-weight="normal" textLength="9.0" lengthAdjust="spacingAndGlyphs">50</text>
<line x1="380.50" y1="279.00" x2="383.50" y2="279.00" stroke="#262626" stroke-width="1.2"/>
<text x="377.20" y="281.75" font-size="8" text-anchor="end" fill="#3d3d3d" color="#3d3d3d" font-weight="normal" textLength="13.1" lengthAdjust="spacingAndGlyphs">100</text>
<line x1="380.50" y1="251.60" x2="383.50" y2="251.60" stroke="#262626" stroke-width="1.2"/>
<text x="377.20" y="254.35" font-size="8" text-anchor="end" fill="#3d3d3d" color="#3d3d3d" font-weight="normal" textLength="13.1" lengthAdjust="spacingAndGlyphs">150</text>
<line x1="383.50" y1="333.80" x2="383.50" y2="337.60" stroke="#262626" stroke-width="1.2"/>
<text x="383.50" y="347.10" font-size="8" text-anchor="middle" fill="#3d3d3d" color="#3d3d3d" font-weight="normal" textLength="4.6" lengthAdjust="spacingAndGlyphs">0</text>
<line x1="407.94" y1="333.80" x2="407.94" y2="337.60" stroke="#262626" stroke-width="1.2"/>
<text x="407.94" y="347.10" font-size="8" text-anchor="middle" fill="#3d3d3d" color="#3d3d3d" font-weight="normal" textLength="8.9" lengthAdjust="spacingAndGlyphs">20</text>
<line x1="432.38" y1="333.80" x2="432.38" y2="337.60" stroke="#262626" stroke-width="1.2"/>
<text x="432.38" y="347.10" font-size="8" text-anchor="middle" fill="#3d3d3d" color="#3d3d3d" font-weight="normal" textLength="8.9" lengthAdjust="spacingAndGlyphs">40</text>
<line x1="456.82" y1="333.80" x2="456.82" y2="337.60" stroke="#262626" stroke-width="1.2"/>
<text x="456.82" y="347.10" font-size="8" text-anchor="middle" fill="#3d3d3d" color="#3d3d3d" font-weight="normal" textLength="8.9" lengthAdjust="spacingAndGlyphs">60</text>
<line x1="481.26" y1="333.80" x2="481.26" y2="337.60" stroke="#262626" stroke-width="1.2"/>
<text x="481.26" y="347.10" font-size="8" text-anchor="middle" fill="#3d3d3d" color="#3d3d3d" font-weight="normal" textLength="8.9" lengthAdjust="spacingAndGlyphs">80</text>
<line x1="505.70" y1="333.80" x2="505.70" y2="337.60" stroke="#262626" stroke-width="1.2"/>
<text x="505.70" y="347.10" font-size="8" text-anchor="middle" fill="#3d3d3d" color="#3d3d3d" font-weight="normal" textLength="12.4" lengthAdjust="spacingAndGlyphs">100</text>
<text x="0" y="0" font-size="9.3" text-anchor="middle" fill="#3d3d3d" color="#3d3d3d" textLength="44" lengthAdjust="spacingAndGlyphs" transform="translate(357.50,290.60) rotate(-90)">CD44 (MFIR)</text>
<text x="410.00" y="363.90" font-size="9.4" text-anchor="start" fill="#3d3d3d" color="#3d3d3d" font-weight="normal" textLength="21.9" lengthAdjust="spacingAndGlyphs">% CD5</text>
<text x="432.60" y="360.90" font-size="7.6" text-anchor="start" fill="#3d3d3d" color="#3d3d3d" font-weight="normal" textLength="4.0" lengthAdjust="spacingAndGlyphs">+</text>
<text x="437.80" y="363.90" font-size="9.4" text-anchor="start" fill="#3d3d3d" color="#3d3d3d" font-weight="normal" textLength="21.5" lengthAdjust="spacingAndGlyphs">/CD19</text>
<text x="459.90" y="360.90" font-size="7.6" text-anchor="start" fill="#3d3d3d" color="#3d3d3d" font-weight="normal" textLength="3.6" lengthAdjust="spacingAndGlyphs">+</text>
<text x="466.80" y="363.90" font-size="9.4" text-anchor="start" fill="#3d3d3d" color="#3d3d3d" font-weight="normal" textLength="14.9" lengthAdjust="spacingAndGlyphs">cells</text>
<text x="390.30" y="263.40" font-size="7.6" text-anchor="start" fill="#3d3d3d" color="#3d3d3d" font-weight="normal" textLength="35.3" lengthAdjust="spacingAndGlyphs">r = 0.5866</text>
<text x="390.30" y="275.00" font-size="7.6" text-anchor="start" fill="#3d3d3d" color="#3d3d3d" font-weight="normal" textLength="28.6" lengthAdjust="spacingAndGlyphs">p &lt; 0.05</text>
<circle cx="485.70" cy="256.70" r="2.05" fill="#921238"/>
<circle cx="496.80" cy="276.00" r="2.05" fill="#921238"/>
<circle cx="469.80" cy="283.50" r="2.05" fill="#921238"/>
<circle cx="491.20" cy="283.50" r="2.05" fill="#921238"/>
<circle cx="490.20" cy="284.30" r="2.05" fill="#921238"/>
<circle cx="492.20" cy="282.60" r="2.05" fill="#921238"/>
<circle cx="472.50" cy="294.40" r="2.05" fill="#921238"/>
<circle cx="492.40" cy="291.90" r="2.05" fill="#921238"/>
<circle cx="464.40" cy="305.80" r="2.05" fill="#921238"/>
<circle cx="495.90" cy="307.80" r="2.05" fill="#921238"/>
<circle cx="449.80" cy="316.70" r="2.05" fill="#921238"/>
<circle cx="478.70" cy="312.50" r="2.05" fill="#921238"/>
<circle cx="430.90" cy="320.70" r="2.05" fill="#921238"/>
<circle cx="446.50" cy="323.80" r="2.05" fill="#921238"/>
<circle cx="471.60" cy="321.10" r="2.05" fill="#921238"/>
<circle cx="487.10" cy="322.10" r="2.05" fill="#921238"/>
<line x1="430.90" y1="325.80" x2="497.50" y2="286.40" stroke="#8c1236" stroke-width="1.2"/>
<text x="111.60" y="380.50" font-size="10" text-anchor="middle" fill="#111" color="#111" font-weight="bold" textLength="14.8" lengthAdjust="spacingAndGlyphs">BM</text>
<line x1="49.30" y1="383.10" x2="49.30" y2="469.10" stroke="#262626" stroke-width="1.35"/>
<line x1="48.70" y1="468.50" x2="174.70" y2="468.50" stroke="#262626" stroke-width="1.35"/>
<line x1="46.30" y1="468.50" x2="49.30" y2="468.50" stroke="#262626" stroke-width="1.2"/>
<text x="43.00" y="471.25" font-size="8" text-anchor="end" fill="#3d3d3d" color="#3d3d3d" font-weight="normal" textLength="4.6" lengthAdjust="spacingAndGlyphs">0</text>
<line x1="46.30" y1="441.10" x2="49.30" y2="441.10" stroke="#262626" stroke-width="1.2"/>
<text x="43.00" y="443.85" font-size="8" text-anchor="end" fill="#3d3d3d" color="#3d3d3d" font-weight="normal" textLength="9.0" lengthAdjust="spacingAndGlyphs">50</text>
<line x1="46.30" y1="413.70" x2="49.30" y2="413.70" stroke="#262626" stroke-width="1.2"/>
<text x="43.00" y="416.45" font-size="8" text-anchor="end" fill="#3d3d3d" color="#3d3d3d" font-weight="normal" textLength="13.1" lengthAdjust="spacingAndGlyphs">100</text>
<line x1="46.30" y1="386.30" x2="49.30" y2="386.30" stroke="#262626" stroke-width="1.2"/>
<text x="43.00" y="389.05" font-size="8" text-anchor="end" fill="#3d3d3d" color="#3d3d3d" font-weight="normal" textLength="13.1" lengthAdjust="spacingAndGlyphs">150</text>
<line x1="49.30" y1="468.50" x2="49.30" y2="472.30" stroke="#262626" stroke-width="1.2"/>
<text x="49.30" y="481.80" font-size="8" text-anchor="middle" fill="#3d3d3d" color="#3d3d3d" font-weight="normal" textLength="4.6" lengthAdjust="spacingAndGlyphs">0</text>
<line x1="73.74" y1="468.50" x2="73.74" y2="472.30" stroke="#262626" stroke-width="1.2"/>
<text x="73.74" y="481.80" font-size="8" text-anchor="middle" fill="#3d3d3d" color="#3d3d3d" font-weight="normal" textLength="8.9" lengthAdjust="spacingAndGlyphs">20</text>
<line x1="98.18" y1="468.50" x2="98.18" y2="472.30" stroke="#262626" stroke-width="1.2"/>
<text x="98.18" y="481.80" font-size="8" text-anchor="middle" fill="#3d3d3d" color="#3d3d3d" font-weight="normal" textLength="8.9" lengthAdjust="spacingAndGlyphs">40</text>
<line x1="122.62" y1="468.50" x2="122.62" y2="472.30" stroke="#262626" stroke-width="1.2"/>
<text x="122.62" y="481.80" font-size="8" text-anchor="middle" fill="#3d3d3d" color="#3d3d3d" font-weight="normal" textLength="8.9" lengthAdjust="spacingAndGlyphs">60</text>
<line x1="147.06" y1="468.50" x2="147.06" y2="472.30" stroke="#262626" stroke-width="1.2"/>
<text x="147.06" y="481.80" font-size="8" text-anchor="middle" fill="#3d3d3d" color="#3d3d3d" font-weight="normal" textLength="8.9" lengthAdjust="spacingAndGlyphs">80</text>
<line x1="171.50" y1="468.50" x2="171.50" y2="472.30" stroke="#262626" stroke-width="1.2"/>
<text x="171.50" y="481.80" font-size="8" text-anchor="middle" fill="#3d3d3d" color="#3d3d3d" font-weight="normal" textLength="12.4" lengthAdjust="spacingAndGlyphs">100</text>
<text x="0" y="0" font-size="9.3" text-anchor="middle" fill="#3d3d3d" color="#3d3d3d" textLength="44" lengthAdjust="spacingAndGlyphs" transform="translate(23.30,425.30) rotate(-90)">CD44 (MFIR)</text>
<text x="75.80" y="498.60" font-size="9.4" text-anchor="start" fill="#3d3d3d" color="#3d3d3d" font-weight="normal" textLength="21.9" lengthAdjust="spacingAndGlyphs">% CD5</text>
<text x="98.40" y="495.60" font-size="7.6" text-anchor="start" fill="#3d3d3d" color="#3d3d3d" font-weight="normal" textLength="4.0" lengthAdjust="spacingAndGlyphs">+</text>
<text x="103.60" y="498.60" font-size="9.4" text-anchor="start" fill="#3d3d3d" color="#3d3d3d" font-weight="normal" textLength="21.5" lengthAdjust="spacingAndGlyphs">/CD19</text>
<text x="125.70" y="495.60" font-size="7.6" text-anchor="start" fill="#3d3d3d" color="#3d3d3d" font-weight="normal" textLength="3.6" lengthAdjust="spacingAndGlyphs">+</text>
<text x="132.60" y="498.60" font-size="9.4" text-anchor="start" fill="#3d3d3d" color="#3d3d3d" font-weight="normal" textLength="14.9" lengthAdjust="spacingAndGlyphs">cells</text>
<text x="56.10" y="398.10" font-size="7.6" text-anchor="start" fill="#3d3d3d" color="#3d3d3d" font-weight="normal" textLength="35.3" lengthAdjust="spacingAndGlyphs">r = 0.4462</text>
<text x="56.10" y="409.70" font-size="7.6" text-anchor="start" fill="#3d3d3d" color="#3d3d3d" font-weight="normal" textLength="21.5" lengthAdjust="spacingAndGlyphs">p = ns</text>
<circle cx="61.40" cy="426.30" r="2.05" fill="#921238"/>
<circle cx="83.90" cy="429.70" r="2.05" fill="#921238"/>
<circle cx="75.90" cy="433.50" r="2.05" fill="#921238"/>
<circle cx="66.50" cy="436.90" r="2.05" fill="#921238"/>
<circle cx="62.70" cy="439.00" r="2.05" fill="#921238"/>
<circle cx="95.00" cy="439.90" r="2.05" fill="#921238"/>
<circle cx="50.80" cy="450.70" r="2.05" fill="#921238"/>
<circle cx="52.90" cy="451.70" r="2.05" fill="#921238"/>
<circle cx="51.30" cy="452.80" r="2.05" fill="#921238"/>
<circle cx="52.40" cy="453.80" r="2.05" fill="#921238"/>
<circle cx="54.30" cy="458.10" r="2.05" fill="#921238"/>
<circle cx="51.10" cy="463.20" r="2.05" fill="#921238"/>
<circle cx="56.10" cy="462.30" r="2.05" fill="#921238"/>
<circle cx="61.40" cy="460.40" r="2.05" fill="#921238"/>
<circle cx="64.00" cy="460.00" r="2.05" fill="#921238"/>
<circle cx="84.90" cy="459.30" r="2.05" fill="#921238"/>
<line x1="53.50" y1="453.60" x2="95.20" y2="436.40" stroke="#8c1236" stroke-width="1.2"/>
<text x="277.40" y="380.35" font-size="10" text-anchor="middle" fill="#111" color="#111" font-weight="bold" textLength="11.8" lengthAdjust="spacingAndGlyphs">PC</text>
<line x1="216.50" y1="382.95" x2="216.50" y2="468.95" stroke="#262626" stroke-width="1.35"/>
<line x1="215.90" y1="468.35" x2="341.90" y2="468.35" stroke="#262626" stroke-width="1.35"/>
<line x1="213.50" y1="468.35" x2="216.50" y2="468.35" stroke="#262626" stroke-width="1.2"/>
<text x="210.20" y="471.10" font-size="8" text-anchor="end" fill="#3d3d3d" color="#3d3d3d" font-weight="normal" textLength="4.6" lengthAdjust="spacingAndGlyphs">0</text>
<line x1="213.50" y1="440.95" x2="216.50" y2="440.95" stroke="#262626" stroke-width="1.2"/>
<text x="210.20" y="443.70" font-size="8" text-anchor="end" fill="#3d3d3d" color="#3d3d3d" font-weight="normal" textLength="9.0" lengthAdjust="spacingAndGlyphs">50</text>
<line x1="213.50" y1="413.55" x2="216.50" y2="413.55" stroke="#262626" stroke-width="1.2"/>
<text x="210.20" y="416.30" font-size="8" text-anchor="end" fill="#3d3d3d" color="#3d3d3d" font-weight="normal" textLength="13.1" lengthAdjust="spacingAndGlyphs">100</text>
<line x1="213.50" y1="386.15" x2="216.50" y2="386.15" stroke="#262626" stroke-width="1.2"/>
<text x="210.20" y="388.90" font-size="8" text-anchor="end" fill="#3d3d3d" color="#3d3d3d" font-weight="normal" textLength="13.1" lengthAdjust="spacingAndGlyphs">150</text>
<line x1="216.50" y1="468.35" x2="216.50" y2="472.15" stroke="#262626" stroke-width="1.2"/>
<text x="216.50" y="481.65" font-size="8" text-anchor="middle" fill="#3d3d3d" color="#3d3d3d" font-weight="normal" textLength="4.6" lengthAdjust="spacingAndGlyphs">0</text>
<line x1="240.94" y1="468.35" x2="240.94" y2="472.15" stroke="#262626" stroke-width="1.2"/>
<text x="240.94" y="481.65" font-size="8" text-anchor="middle" fill="#3d3d3d" color="#3d3d3d" font-weight="normal" textLength="8.9" lengthAdjust="spacingAndGlyphs">20</text>
<line x1="265.38" y1="468.35" x2="265.38" y2="472.15" stroke="#262626" stroke-width="1.2"/>
<text x="265.38" y="481.65" font-size="8" text-anchor="middle" fill="#3d3d3d" color="#3d3d3d" font-weight="normal" textLength="8.9" lengthAdjust="spacingAndGlyphs">40</text>
<line x1="289.82" y1="468.35" x2="289.82" y2="472.15" stroke="#262626" stroke-width="1.2"/>
<text x="289.82" y="481.65" font-size="8" text-anchor="middle" fill="#3d3d3d" color="#3d3d3d" font-weight="normal" textLength="8.9" lengthAdjust="spacingAndGlyphs">60</text>
<line x1="314.26" y1="468.35" x2="314.26" y2="472.15" stroke="#262626" stroke-width="1.2"/>
<text x="314.26" y="481.65" font-size="8" text-anchor="middle" fill="#3d3d3d" color="#3d3d3d" font-weight="normal" textLength="8.9" lengthAdjust="spacingAndGlyphs">80</text>
<line x1="338.70" y1="468.35" x2="338.70" y2="472.15" stroke="#262626" stroke-width="1.2"/>
<text x="338.70" y="481.65" font-size="8" text-anchor="middle" fill="#3d3d3d" color="#3d3d3d" font-weight="normal" textLength="12.4" lengthAdjust="spacingAndGlyphs">100</text>
<text x="0" y="0" font-size="9.3" text-anchor="middle" fill="#3d3d3d" color="#3d3d3d" textLength="44" lengthAdjust="spacingAndGlyphs" transform="translate(190.50,425.15) rotate(-90)">CD44 (MFIR)</text>
<text x="243.00" y="498.45" font-size="9.4" text-anchor="start" fill="#3d3d3d" color="#3d3d3d" font-weight="normal" textLength="21.9" lengthAdjust="spacingAndGlyphs">% CD5</text>
<text x="265.60" y="495.45" font-size="7.6" text-anchor="start" fill="#3d3d3d" color="#3d3d3d" font-weight="normal" textLength="4.0" lengthAdjust="spacingAndGlyphs">+</text>
<text x="270.80" y="498.45" font-size="9.4" text-anchor="start" fill="#3d3d3d" color="#3d3d3d" font-weight="normal" textLength="21.5" lengthAdjust="spacingAndGlyphs">/CD19</text>
<text x="292.90" y="495.45" font-size="7.6" text-anchor="start" fill="#3d3d3d" color="#3d3d3d" font-weight="normal" textLength="3.6" lengthAdjust="spacingAndGlyphs">+</text>
<text x="299.80" y="498.45" font-size="9.4" text-anchor="start" fill="#3d3d3d" color="#3d3d3d" font-weight="normal" textLength="14.9" lengthAdjust="spacingAndGlyphs">cells</text>
<text x="223.30" y="397.95" font-size="7.6" text-anchor="start" fill="#3d3d3d" color="#3d3d3d" font-weight="normal" textLength="34.5" lengthAdjust="spacingAndGlyphs">r = 0.1418</text>
<text x="223.30" y="409.55" font-size="7.6" text-anchor="start" fill="#3d3d3d" color="#3d3d3d" font-weight="normal" textLength="21.5" lengthAdjust="spacingAndGlyphs">p = ns</text>
<circle cx="221.50" cy="448.50" r="2.05" fill="#921238"/>
<circle cx="226.80" cy="454.50" r="2.05" fill="#921238"/>
<circle cx="231.90" cy="453.80" r="2.05" fill="#921238"/>
<circle cx="230.80" cy="424.50" r="2.05" fill="#921238"/>
<circle cx="241.20" cy="458.00" r="2.05" fill="#921238"/>
<circle cx="243.50" cy="419.70" r="2.05" fill="#921238"/>
<circle cx="253.20" cy="444.20" r="2.05" fill="#921238"/>
<circle cx="256.20" cy="434.20" r="2.05" fill="#921238"/>
<circle cx="275.10" cy="444.60" r="2.05" fill="#921238"/>
<circle cx="285.50" cy="426.20" r="2.05" fill="#921238"/>
<circle cx="288.90" cy="450.80" r="2.05" fill="#921238"/>
<circle cx="291.50" cy="455.50" r="2.05" fill="#921238"/>
<circle cx="296.30" cy="445.10" r="2.05" fill="#921238"/>
<circle cx="303.90" cy="428.50" r="2.05" fill="#921238"/>
<circle cx="317.50" cy="421.50" r="2.05" fill="#921238"/>
<circle cx="319.20" cy="454.50" r="2.05" fill="#921238"/>
<line x1="221.10" y1="444.60" x2="318.50" y2="438.80" stroke="#8c1236" stroke-width="1.2"/>
<text x="446.80" y="380.40" font-size="10" text-anchor="middle" fill="#111" color="#111" font-weight="bold" textLength="18.9" lengthAdjust="spacingAndGlyphs">LNP</text>
<line x1="383.60" y1="383.00" x2="383.60" y2="469.00" stroke="#262626" stroke-width="1.35"/>
<line x1="383.00" y1="468.40" x2="509.00" y2="468.40" stroke="#262626" stroke-width="1.35"/>
<line x1="380.60" y1="468.40" x2="383.60" y2="468.40" stroke="#262626" stroke-width="1.2"/>
<text x="377.30" y="471.15" font-size="8" text-anchor="end" fill="#3d3d3d" color="#3d3d3d" font-weight="normal" textLength="4.6" lengthAdjust="spacingAndGlyphs">0</text>
<line x1="380.60" y1="441.00" x2="383.60" y2="441.00" stroke="#262626" stroke-width="1.2"/>
<text x="377.30" y="443.75" font-size="8" text-anchor="end" fill="#3d3d3d" color="#3d3d3d" font-weight="normal" textLength="9.0" lengthAdjust="spacingAndGlyphs">50</text>
<line x1="380.60" y1="413.60" x2="383.60" y2="413.60" stroke="#262626" stroke-width="1.2"/>
<text x="377.30" y="416.35" font-size="8" text-anchor="end" fill="#3d3d3d" color="#3d3d3d" font-weight="normal" textLength="13.1" lengthAdjust="spacingAndGlyphs">100</text>
<line x1="380.60" y1="386.20" x2="383.60" y2="386.20" stroke="#262626" stroke-width="1.2"/>
<text x="377.30" y="388.95" font-size="8" text-anchor="end" fill="#3d3d3d" color="#3d3d3d" font-weight="normal" textLength="13.1" lengthAdjust="spacingAndGlyphs">150</text>
<line x1="383.60" y1="468.40" x2="383.60" y2="472.20" stroke="#262626" stroke-width="1.2"/>
<text x="383.60" y="481.70" font-size="8" text-anchor="middle" fill="#3d3d3d" color="#3d3d3d" font-weight="normal" textLength="4.6" lengthAdjust="spacingAndGlyphs">0</text>
<line x1="408.04" y1="468.40" x2="408.04" y2="472.20" stroke="#262626" stroke-width="1.2"/>
<text x="408.04" y="481.70" font-size="8" text-anchor="middle" fill="#3d3d3d" color="#3d3d3d" font-weight="normal" textLength="8.9" lengthAdjust="spacingAndGlyphs">20</text>
<line x1="432.48" y1="468.40" x2="432.48" y2="472.20" stroke="#262626" stroke-width="1.2"/>
<text x="432.48" y="481.70" font-size="8" text-anchor="middle" fill="#3d3d3d" color="#3d3d3d" font-weight="normal" textLength="8.9" lengthAdjust="spacingAndGlyphs">40</text>
<line x1="456.92" y1="468.40" x2="456.92" y2="472.20" stroke="#262626" stroke-width="1.2"/>
<text x="456.92" y="481.70" font-size="8" text-anchor="middle" fill="#3d3d3d" color="#3d3d3d" font-weight="normal" textLength="8.9" lengthAdjust="spacingAndGlyphs">60</text>
<line x1="481.36" y1="468.40" x2="481.36" y2="472.20" stroke="#262626" stroke-width="1.2"/>
<text x="481.36" y="481.70" font-size="8" text-anchor="middle" fill="#3d3d3d" color="#3d3d3d" font-weight="normal" textLength="8.9" lengthAdjust="spacingAndGlyphs">80</text>
<line x1="505.80" y1="468.40" x2="505.80" y2="472.20" stroke="#262626" stroke-width="1.2"/>
<text x="505.80" y="481.70" font-size="8" text-anchor="middle" fill="#3d3d3d" color="#3d3d3d" font-weight="normal" textLength="12.4" lengthAdjust="spacingAndGlyphs">100</text>
<text x="0" y="0" font-size="9.3" text-anchor="middle" fill="#3d3d3d" color="#3d3d3d" textLength="44" lengthAdjust="spacingAndGlyphs" transform="translate(357.60,425.20) rotate(-90)">CD44 (MFIR)</text>
<text x="410.10" y="498.50" font-size="9.4" text-anchor="start" fill="#3d3d3d" color="#3d3d3d" font-weight="normal" textLength="21.9" lengthAdjust="spacingAndGlyphs">% CD5</text>
<text x="432.70" y="495.50" font-size="7.6" text-anchor="start" fill="#3d3d3d" color="#3d3d3d" font-weight="normal" textLength="4.0" lengthAdjust="spacingAndGlyphs">+</text>
<text x="437.90" y="498.50" font-size="9.4" text-anchor="start" fill="#3d3d3d" color="#3d3d3d" font-weight="normal" textLength="21.5" lengthAdjust="spacingAndGlyphs">/CD19</text>
<text x="460.00" y="495.50" font-size="7.6" text-anchor="start" fill="#3d3d3d" color="#3d3d3d" font-weight="normal" textLength="3.6" lengthAdjust="spacingAndGlyphs">+</text>
<text x="466.90" y="498.50" font-size="9.4" text-anchor="start" fill="#3d3d3d" color="#3d3d3d" font-weight="normal" textLength="14.9" lengthAdjust="spacingAndGlyphs">cells</text>
<text x="390.40" y="398.00" font-size="7.6" text-anchor="start" fill="#3d3d3d" color="#3d3d3d" font-weight="normal" textLength="37.5" lengthAdjust="spacingAndGlyphs">r = -0.0169</text>
<text x="390.40" y="409.60" font-size="7.6" text-anchor="start" fill="#3d3d3d" color="#3d3d3d" font-weight="normal" textLength="21.5" lengthAdjust="spacingAndGlyphs">p = ns</text>
<circle cx="388.00" cy="436.00" r="2.05" fill="#921238"/>
<circle cx="391.40" cy="444.80" r="2.05" fill="#921238"/>
<circle cx="401.30" cy="442.90" r="2.05" fill="#921238"/>
<circle cx="405.90" cy="443.20" r="2.05" fill="#921238"/>
<circle cx="388.60" cy="453.80" r="2.05" fill="#921238"/>
<circle cx="393.70" cy="453.30" r="2.05" fill="#921238"/>
<circle cx="410.20" cy="453.80" r="2.05" fill="#921238"/>
<circle cx="422.10" cy="454.20" r="2.05" fill="#921238"/>
<circle cx="389.40" cy="458.50" r="2.05" fill="#921238"/>
<circle cx="391.20" cy="459.30" r="2.05" fill="#921238"/>
<circle cx="393.20" cy="459.80" r="2.05" fill="#921238"/>
<circle cx="417.70" cy="461.00" r="2.05" fill="#921238"/>
<circle cx="418.80" cy="465.60" r="2.05" fill="#921238"/>
<circle cx="385.20" cy="465.20" r="2.05" fill="#921238"/>
<circle cx="389.20" cy="464.50" r="2.05" fill="#921238"/>
<line x1="384.50" y1="455.60" x2="422.30" y2="455.60" stroke="#8c1236" stroke-width="1.2"/>
<rect x="0" y="0" width="520" height="1" fill="#000"/>
<rect x="0" y="1" width="520" height="1" fill="#000" fill-opacity="0.45"/>
<rect x="0" y="0" width="1" height="507" fill="#000"/>
<rect x="1" y="0" width="1" height="507" fill="#000" fill-opacity="0.4"/>
<rect x="519" y="0" width="1" height="507" fill="#000"/>
<rect x="518" y="0" width="1" height="507" fill="#000" fill-opacity="0.3"/>
<rect x="0" y="506" width="520" height="1" fill="#000"/>
<rect x="0" y="505" width="520" height="1" fill="#000" fill-opacity="0.8"/>
</svg>
</body></html>
